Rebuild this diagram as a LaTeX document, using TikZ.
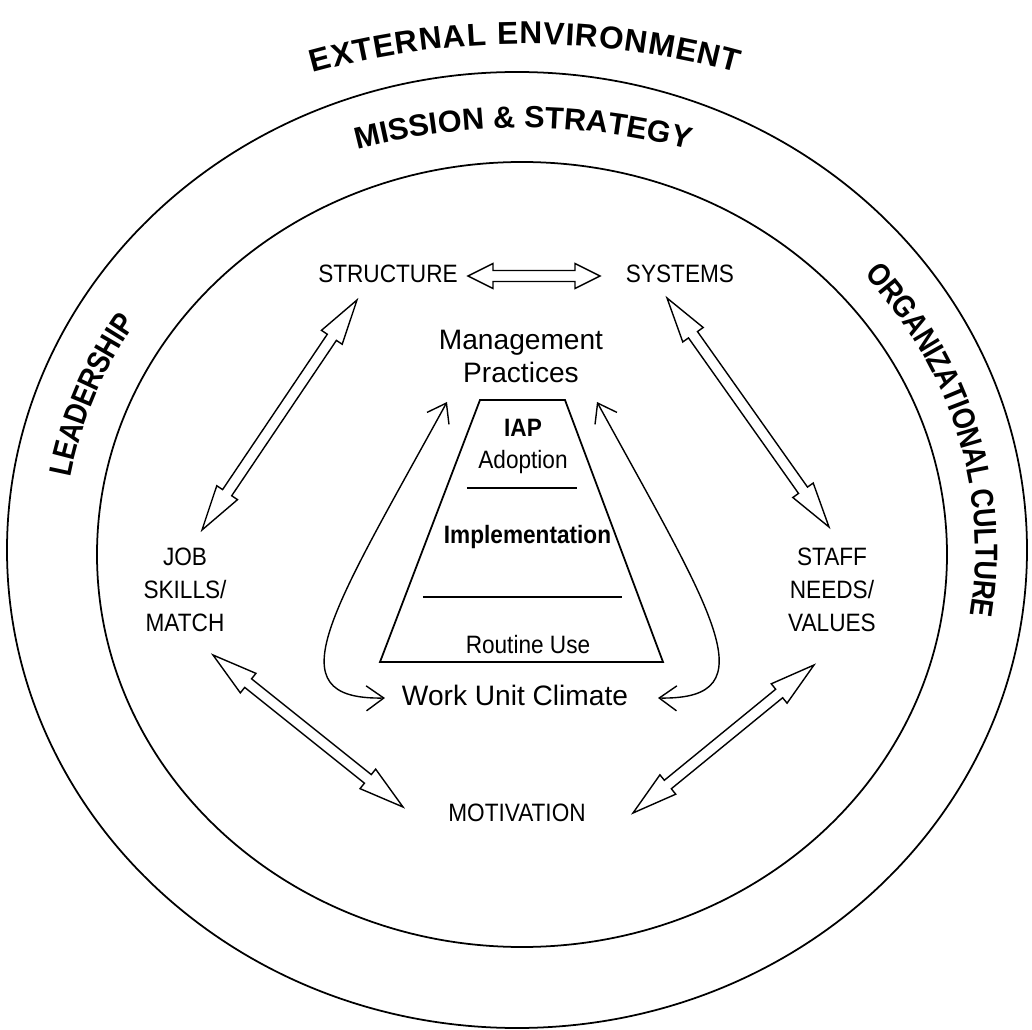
\documentclass[tikz,border=0pt]{standalone}
\usepackage{fontspec}
\setmainfont{Liberation Sans}
\newfontfamily\narrowsans[FakeStretch=0.9]{Liberation Sans}
\newfontfamily\ringsans[FakeStretch=0.85]{Liberation Sans}
\usetikzlibrary{arrows.meta, calc, decorations.text, positioning}

\newcommand{\arcfont}{\ringsans\bfseries\fontsize{18}{21}\selectfont}
\newcommand{\topfont}{\bfseries\fontsize{18}{21}\selectfont}
\newcommand{\headw}{0.25cm}
\newcommand{\shaftw}{0.11cm}

% hollow block arrow with a head at both ends, #1 = head length
\newcommand{\blockarrow}[3][0.9cm]{%
  \coordinate (ba-a) at (#2);
  \coordinate (ba-b) at (#3);
  \coordinate (ba-p) at ($(ba-a)!#1!(ba-b)$);
  \coordinate (ba-q) at ($(ba-b)!#1!(ba-a)$);
  \draw[arrowline] (ba-a)
    -- ($(ba-p)!\headw!90:(ba-b)$) -- ($(ba-p)!\shaftw!90:(ba-b)$)
    -- ($(ba-q)!\shaftw!90:(ba-b)$) -- ($(ba-q)!\headw!90:(ba-b)$)
    -- (ba-b)
    -- ($(ba-q)!\headw!-90:(ba-b)$) -- ($(ba-q)!\shaftw!-90:(ba-b)$)
    -- ($(ba-p)!\shaftw!-90:(ba-b)$) -- ($(ba-p)!\headw!-90:(ba-b)$)
    -- cycle;
}

\begin{document}
\begin{tikzpicture}[
    every node/.style={inner sep=1pt},
    caps/.style={align=center, font=\narrowsans\fontsize{14.3}{18.8}\selectfont},
    inner/.style={align=center, font=\fontsize{16}{18.8}\selectfont},
    stage/.style={font=\narrowsans\fontsize{14.3}{17}\selectfont},
    ring/.style={draw, line width=1pt},
    arrowline/.style={draw, line width=0.8pt},
    curved/.style={draw, line width=0.8pt,
      {Straight Barb[length=3.5mm,width=5mm]}-{Straight Barb[length=3.5mm,width=5mm]}}]

  \useasboundingbox (-10.34,-9.58) rectangle (10.3,11.0);

  % the two rings
  \draw[ring] (0,0) ellipse[x radius=10.2, y radius=9.56];
  \draw[ring] (0.1,-0.09) ellipse[x radius=8.5, y radius=7.85];

  % ring labels
  \path[decorate, decoration={text along path, text align={fit to path}, raise=-0.23cm,
      text={|\topfont|EXTERNAL ENVIRONMENT}}]
    ([shift={(105.5:16.1)}]0.16,-5.75) arc[start angle=105.5, end angle=74.5, radius=16.1];
  \path[decorate, decoration={text along path, text align={fit to path}, raise=-0.22cm,
      text={|\topfont\fontsize{17.4}{21}\selectfont|MISSION {\&} STRATEGY}}]
    ([shift={(104.8:13.18)}]0.12,-4.52) arc[start angle=104.8, end angle=75.2, radius=13.18];
  \path[decorate, decoration={text along path, text align=center, raise=-0.23cm,
      text={|\arcfont|LEADERSHIP}}]
    ([shift={(174:9.35 and 8.705)}]0.05,-0.045)
      arc[start angle=174, end angle=143, x radius=9.35, y radius=8.705];
  \path[decorate, decoration={text along path, text align=center, raise=-0.23cm,
      text={|\arcfont|ORGANIZATIONAL CULTURE}}]
    ([shift={(50:9.35 and 8.705)}]0.05,-0.045)
      arc[start angle=50, end angle=-18, x radius=9.35, y radius=8.705];

  % the five factors
  \node[caps] (structure) at (-2.58,5.52) {STRUCTURE};
  \node[caps] (systems) at (3.26,5.52) {SYSTEMS};
  \node[caps] (job) at (-6.64,-0.8) {JOB\\SKILLS/\\MATCH};
  \node[caps] (staff) at (6.3,-0.8) {STAFF\\NEEDS/\\VALUES};
  \node[caps] (motivation) at (0,-5.26) {MOTIVATION};

  \node[inner] (mgmt) at (0.08,3.88) {Management\\Practices};
  \node[inner] (climate) at (-0.04,-2.9) {Work Unit Climate};

  % IAP stages
  \draw[ring] (-0.74,3.0) -- (0.96,3.0) -- (2.92,-2.24) -- (-2.74,-2.24) -- cycle;
  \draw[line width=0.8pt] (-1.0,1.24) -- (1.2,1.24);
  \draw[line width=0.8pt] (-1.88,-0.94) -- (2.1,-0.94);
  \node[stage] (iap) at (0.12,2.45) {\bfseries IAP};
  \node[stage, below=0.2cm of iap] (adoption) {Adoption};
  \node[stage] (implementation) at (0.21,0.25) {\bfseries Implementation};
  \node[stage] (routine) at (0.22,-1.9) {Routine Use};

  % block arrows
  \blockarrow[0.5cm]{[shift={(1.6,-0.04)}]structure.center}{[shift={(-1.6,-0.04)}]systems.center}
  \blockarrow{[shift={(-0.62,-0.52)}]structure.center}{[shift={(0.34,1.2)}]job.center}
  \blockarrow{[shift={(-0.26,-0.48)}]systems.center}{[shift={(-0.06,1.26)}]staff.center}
  \blockarrow{[shift={(0.56,-1.3)}]job.center}{[shift={(-2.28,0.12)}]motivation.center}
  \blockarrow{[shift={(-0.36,-1.5)}]staff.center}{[shift={(2.32,0)}]motivation.center}

  % management practices <-> work unit climate
  \draw[curved] ([shift={(-1.48,-0.92)}]mgmt.center)
    .. controls +(-2.3,-4.2) and +(-2.26,-0.04) .. ([shift={(-2.6,-0.06)}]climate.center);
  \draw[curved] ([shift={(1.52,-0.92)}]mgmt.center)
    .. controls +(2.3,-4.2) and +(2.26,-0.04) .. ([shift={(2.86,-0.06)}]climate.center);

\end{tikzpicture}
\end{document}
